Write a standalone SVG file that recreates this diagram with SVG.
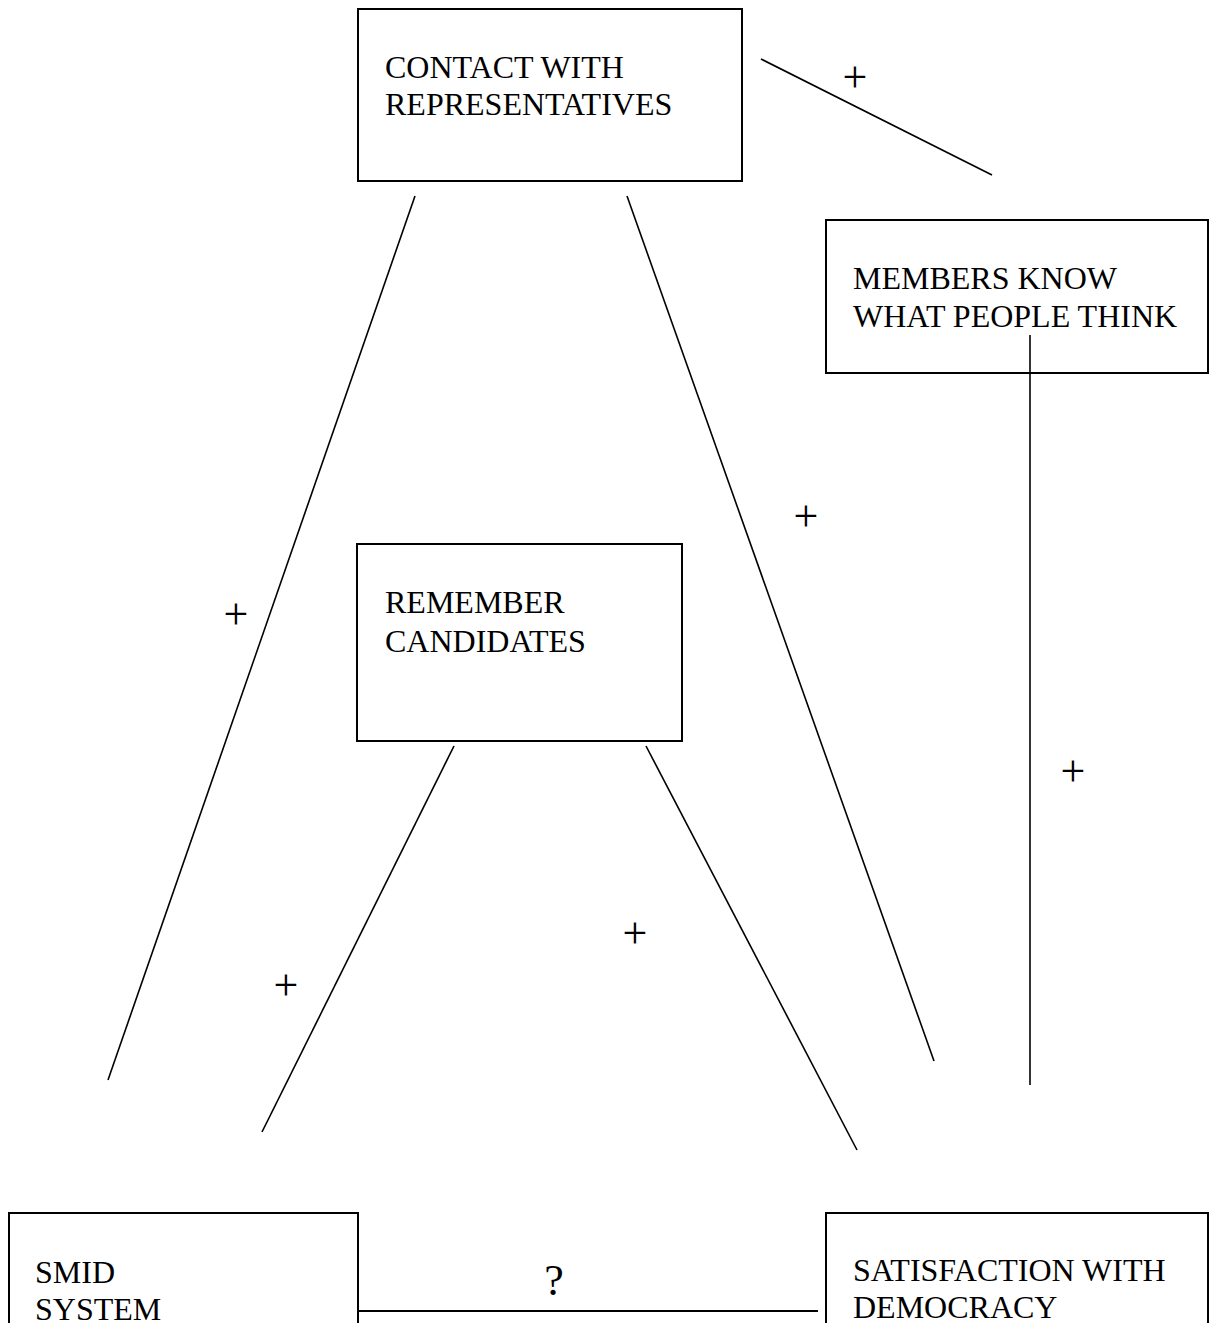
<svg xmlns="http://www.w3.org/2000/svg" width="1211" height="1323" viewBox="0 0 1211 1323">
<style>
.box{fill:#fff;stroke:#000;stroke-width:2}
.t{font-family:"Liberation Serif","Times New Roman",serif;font-size:32px;fill:#000}
.lbl{font-family:"Liberation Serif","Times New Roman",serif;font-size:44px;fill:#000;text-anchor:middle}
.c{stroke:#000;stroke-width:1.6;fill:none}
</style>
<rect width="1211" height="1323" fill="#fff"/>
<g id="connectors">
<line class="c" x1="415" y1="196" x2="108" y2="1080"/>
<line class="c" x1="627" y1="196" x2="934" y2="1061"/>
<line class="c" x1="454" y1="746" x2="262" y2="1132"/>
<line class="c" x1="646" y1="746" x2="857" y2="1150"/>
<line class="c" x1="761" y1="59" x2="992" y2="175"/>
<line class="c" x1="1030" y1="335" x2="1030" y2="1085"/>
<line class="c" x1="358" y1="1311" x2="818" y2="1311" style="stroke-width:2"/>
<text class="lbl" x="855" y="92">+</text>
<text class="lbl" x="236" y="629">+</text>
<text class="lbl" x="806" y="531">+</text>
<text class="lbl" x="1073" y="786">+</text>
<text class="lbl" x="635" y="948">+</text>
<text class="lbl" x="286" y="1000">+</text>
<text class="lbl" x="554" y="1295">?</text>
</g>
<g id="contact">
<rect class="box" x="358" y="9" width="384" height="172"/>
<text class="t" x="385" y="78">CONTACT WITH</text>
<text class="t" x="385" y="115">REPRESENTATIVES</text>
</g>
<g id="members">
<rect class="box" x="826" y="220" width="382" height="153"/>
<text class="t" x="853" y="289">MEMBERS KNOW</text>
<text class="t" x="853" y="327">WHAT PEOPLE THINK</text>
</g>
<g id="remember">
<rect class="box" x="357" y="544" width="325" height="197"/>
<text class="t" x="385" y="613">REMEMBER</text>
<text class="t" x="385" y="652">CANDIDATES</text>
</g>
<g id="smid">
<rect class="box" x="9" y="1213" width="349" height="130"/>
<text class="t" x="35" y="1283">SMID</text>
<text class="t" x="35" y="1320">SYSTEM</text>
</g>
<g id="satisfaction">
<rect class="box" x="826" y="1213" width="382" height="130"/>
<text class="t" x="853" y="1281">SATISFACTION WITH</text>
<text class="t" x="853" y="1318">DEMOCRACY</text>
</g>
<line class="c" x1="1030" y1="335" x2="1030" y2="373"/>
</svg>
